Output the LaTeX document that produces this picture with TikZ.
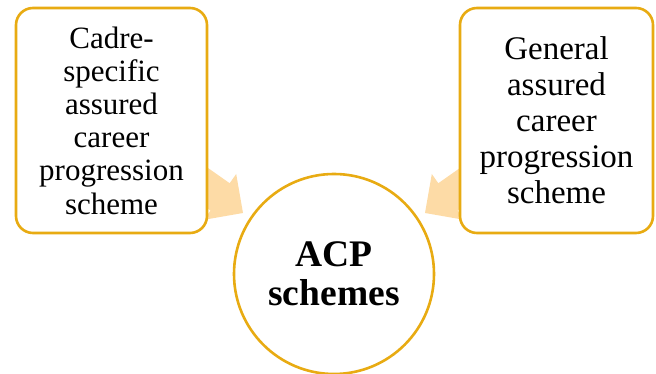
\documentclass[tikz,border=0pt]{standalone}
\usepackage{fontspec}
\setmainfont{Liberation Serif}
\definecolor{goldline}{HTML}{E8AB12}
\definecolor{peach}{HTML}{FDDBA6}
\begin{document}
\begin{tikzpicture}[x=1pt,y=1pt,
  sidebox/.style={draw=goldline, line width=2.6pt, fill=white, rounded corners=17pt,
    align=center, inner sep=0pt},
  hub/.style={circle, draw=goldline, line width=2.6pt, fill=white, minimum size=200pt,
    align=center, inner sep=0pt, font=\bfseries\fontsize{37.5}{39}\selectfont},
  blockarrow/.style={fill=peach, draw=none}]
\useasboundingbox (0,0) rectangle (656,374);

% arrow tips, placed short of the central circle
\coordinate (ltip) at (243,161);
\coordinate (rtip) at (425,161);

% converging block arrows (drawn first, so the boxes cover their tails)
\begin{scope}[shift={(ltip)}, rotate=-35.1]
  \fill[blockarrow] (0,0) -- (-28,28) -- (-28,16.7) -- (-160,16.7)
    -- (-160,-16.7) -- (-28,-16.7) -- (-28,-28) -- cycle;
\end{scope}
\begin{scope}[shift={(rtip)}, rotate=-144.9]
  \fill[blockarrow] (0,0) -- (-28,28) -- (-28,16.7) -- (-160,16.7)
    -- (-160,-16.7) -- (-28,-16.7) -- (-28,-28) -- cycle;
\end{scope}

% source boxes
\node[sidebox, minimum width=191pt, minimum height=225pt,
  font=\fontsize{31}{33.2}\selectfont] (cadre) at (111.5,253.5)
  {Cadre-\\specific\\assured\\career\\progression\\scheme};
\node[sidebox, minimum width=193pt, minimum height=225pt,
  font=\fontsize{33}{36}\selectfont] (general) at (556.5,253.5)
  {General\\assured\\career\\progression\\scheme};

% central circle
\node[hub] (acp) at (334,100) {ACP\\schemes};
\end{tikzpicture}
\end{document}
